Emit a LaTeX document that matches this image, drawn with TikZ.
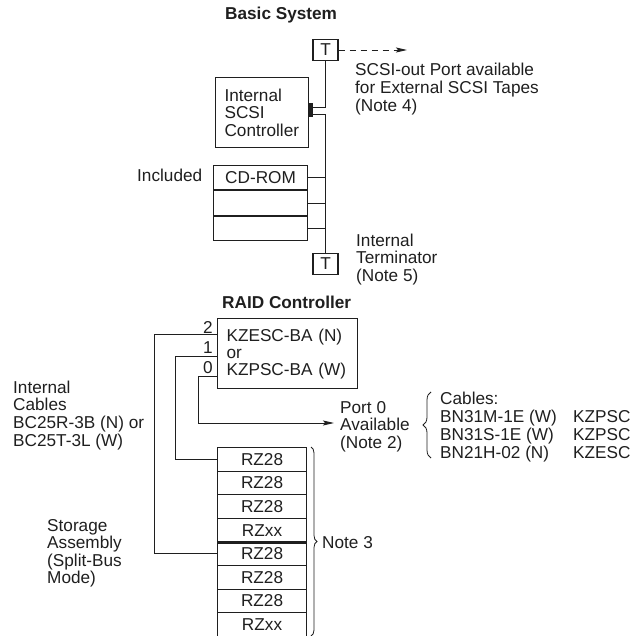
\documentclass[tikz,border=0pt]{standalone}
\usepackage{fontspec}
\setmainfont{Liberation Sans}
\usetikzlibrary{arrows.meta,decorations.pathreplacing}
\newcommand\mlines[1]{\begin{tabular}[t]{@{}l@{}}#1\end{tabular}}
\begin{document}
\begin{tikzpicture}[x=1pt,y=-1pt,
  ink/.style={color=black!88},
  lbl/.style={ink, inner sep=0pt, anchor=base west, font=\fontsize{17.2}{17.4}\selectfont},
  ttl/.style={lbl, font=\fontsize{17.2}{17.4}\selectfont\bfseries},
  boxnode/.style={ink, draw, line width=1.1pt, inner sep=0pt, font=\fontsize{17.2}{17.4}\selectfont},
  termbox/.style={boxnode, minimum width=25pt, minimum height=21pt},
  rowbox/.style={boxnode, anchor=north west, minimum width=89pt, minimum height=23.6pt},
  cdbox/.style={boxnode, minimum width=94pt, minimum height=24.3pt},
  wire/.style={ink, line width=0.9pt},
  tip/.style={-{Stealth[length=11pt,width=5pt,inset=2pt]}},
  bracestyle/.style={ink, line width=0.8pt, decorate}
]
\useasboundingbox (0,0) rectangle (632,636);

% ---------------- Basic System ----------------
\node[ttl] (basic) at (225,20) {Basic System};
\node[termbox] (ttop) at (325.5,50) {T};
\node[boxnode, anchor=north west, minimum width=93pt, minimum height=70pt,
      text width=75pt, inner xsep=9pt, align=left] (ctrl) at (215,77)
      {Internal\\SCSI\\Controller};
\node[ink, fill, inner sep=0pt, minimum width=5pt, minimum height=14pt,
      anchor=north west] (conn) at (308,103) {};
\node[termbox] (tbot) at (325.5,264) {T};

\node[cdbox, anchor=north west] (cd1) at (213,165) {CD-ROM};
\node[cdbox, anchor=north] (cd2) at (cd1.south) {};
\node[cdbox, anchor=north] (cd3) at (cd2.south) {};

\draw[wire] (ttop.south) |- ([yshift=3pt]conn.east);
\draw[wire] ([yshift=-4pt]conn.east) -| (tbot.north);
\draw[wire] (cd1.east) -- (cd1.east -| tbot.north);
\draw[wire] (cd2.east) -- (cd2.east -| tbot.north);
\draw[wire] (cd3.east) -- (cd3.east -| tbot.north);

\coordinate (outend) at (407,50);
\draw[wire, dash pattern=on 6pt off 5pt, tip] (ttop.east) -- (outend);

\node[lbl] (incl) at (137,182) {Included};
\node[lbl] (scsiout) at (355,76)
      {\mlines{SCSI-out Port available\\for External SCSI Tapes\\(Note 4)}};
\node[lbl, font=\fontsize{17.2}{16.8}\selectfont] (iterm) at (356,246)
      {\mlines{Internal\\Terminator\\(Note 5)}};

% ---------------- RAID Controller ----------------
\node[ttl] (raid) at (222,308) {RAID Controller};
\node[boxnode, anchor=north west, minimum width=140pt, minimum height=70pt,
      text width=122pt, inner xsep=9pt, align=left,
      font=\fontsize{17.2}{17}\selectfont] (kz) at (217,318)
      {KZESC-BA (N)\\or\\KZPSC-BA (W)};
\node[lbl, anchor=base east] (n2) at (213,333) {2};
\node[lbl, anchor=base east] (n1) at (213,353) {1};
\node[lbl, anchor=base east] (n0) at (213,373) {0};

% storage assembly
\foreach \i/\t in {1/RZ28,2/RZ28,3/RZ28,4/RZxx,5/RZ28,6/RZ28,7/RZ28,8/RZxx}
  \node[rowbox] (r\i) at (217,{447+(\i-1)*23.6}) {\t};
\draw[ink, line width=2.6pt] (r4.south west) -- (r4.south east);

% cables from ports
\draw[wire] ([yshift=19pt]kz.west) -- ++(-63,0) |- (r5.west);
\draw[wire] ([yshift=-3pt]kz.west) -- ++(-42,0) |- (r1.west);
\coordinate (p0end) at (334,423);
\draw[wire, tip] ([yshift=-23pt]kz.west) -- ++(-19,0) |- (p0end);

\node[lbl] (port0) at (340,413) {\mlines{Port 0\\Available\\(Note 2)}};

% brace for cables
\coordinate (cb1) at (431,458);
\coordinate (cb2) at (431,392);
\draw[bracestyle, decoration={brace, amplitude=8pt}] (cb1) -- (cb2);
\node[lbl, font=\fontsize{17.2}{18}\selectfont] (cables) at (440,404)
      {\mlines{Cables:\\\makebox[133pt][l]{BN31M-1E (W)}KZPSC\\\makebox[133pt][l]{BN31S-1E (W)}KZPSC\\\makebox[133pt][l]{BN21H-02 (N)}KZESC}};

% brace for storage
\coordinate (sb1) at (311,447);
\coordinate (sb2) at (311,636);
\draw[bracestyle, decoration={brace, amplitude=6pt}] (sb1) -- (sb2);
\node[lbl] (note3) at (322,548) {Note 3};

\node[lbl] (icab) at (13,393)
      {\mlines{Internal\\Cables\\BC25R-3B (N) or\\BC25T-3L (W)}};
\node[lbl, font=\fontsize{17.2}{17}\selectfont] (sasm) at (47,531)
      {\mlines{Storage\\Assembly\\(Split-Bus\\Mode)}};
\end{tikzpicture}
\end{document}
